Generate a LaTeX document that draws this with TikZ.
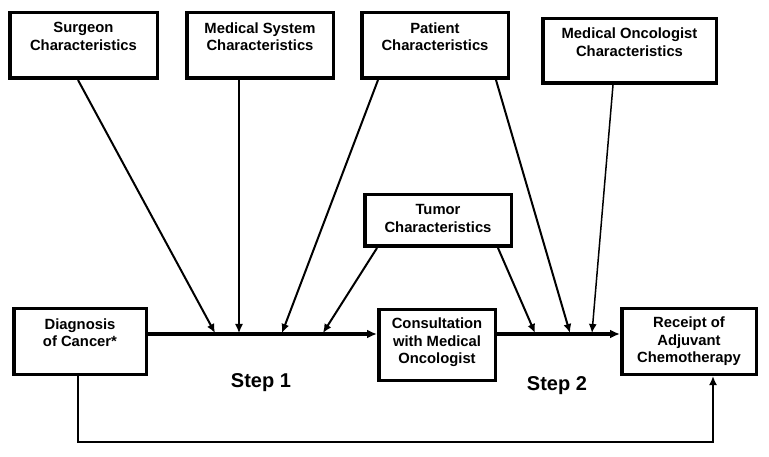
\documentclass[tikz,border=0pt]{standalone}
\usepackage{fontspec}
\setmainfont{Liberation Sans}
\usetikzlibrary{arrows.meta, positioning, calc}

\newcommand{\lowpad}[1]{\rule[-#1]{0pt}{#1}}

\tikzset{
    box/.style={draw, line width=3.5pt, align=center, inner sep=0pt,
        font=\fontsize{14.8pt}{17.5pt}\selectfont\bfseries},
    main/.style={line width=3pt, -{Latex[length=10pt, width=9pt]}},
    infl/.style={line width=2pt, -{Latex[length=9pt, width=8pt]}},
    feed/.style={line width=2pt, -{Latex[length=9pt, width=8pt]}},
    steplabel/.style={font=\fontsize{20pt}{24pt}\selectfont\bfseries},
}

\begin{document}
\begin{tikzpicture}[x=1pt, y=-1pt]
\useasboundingbox (0,0) rectangle (769,457);

\begin{scope}[minimum height=65.5pt]
    \node[box, minimum width=147.5pt] (surg) at (83.5,45.5) {Surgeon\\Characteristics\lowpad{18pt}};
    \node[box, minimum width=146.5pt, right=26pt of surg] (medsys) {Medical System\\Characteristics\lowpad{18pt}};
    \node[box, minimum width=146.5pt, right=25pt of medsys] (pat) {Patient\\Characteristics\lowpad{18pt}};
    \node[box, minimum width=173.5pt, minimum height=64.5pt] (onc) at (629.5,51) {Medical Oncologist\\Characteristics\lowpad{18pt}};

    \node[box, minimum width=146.5pt, minimum height=51.5pt] (tum) at (438,220.5) {Tumor\\Characteristics\lowpad{4pt}};

    \node[box, minimum width=132.5pt] (diag) at (80,341.5) {Diagnosis\\of Cancer*\lowpad{18pt}};
    \node[box, minimum width=116.5pt, minimum height=70.5pt] (cons) at (437,345) {Consultation\\with Medical\\Oncologist\lowpad{8pt}};
    \node[box, minimum width=134.5pt] (rec) at (689,341.5) {Receipt of\\Adjuvant\\Chemotherapy};
\end{scope}

\node[steplabel] (step1) at (261,383) {Step 1};
\node[steplabel] (step2) at (557,386) {Step 2};

\coordinate (lane) at (0,334);
\coordinate (bot) at (0,442);

\coordinate (in1) at (215,333);
\coordinate (in2) at (239,333);
\coordinate (in3) at (282,333);
\coordinate (in4) at (323,333);
\coordinate (in5) at (535,333);
\coordinate (in6) at (570,333);
\coordinate (in7) at (592,333);

\draw[main] (diag.east |- lane) -- (cons.west |- lane);
\draw[main] (cons.east |- lane) -- (rec.west |- lane);

\draw[infl] ([xshift=-5.5pt]surg.south) -- (in1);
\draw[infl, line width=1.3pt] ([xshift=-21pt]medsys.south) -- (in2);
\draw[infl] ([xshift=-57pt]pat.south) -- (in3);
\draw[infl] ([xshift=-61pt]tum.south) -- (in4);
\draw[infl] ([xshift=60pt]tum.south) -- (in5);
\draw[infl] ([xshift=61pt]pat.south) -- (in6);
\draw[infl, line width=1.5pt] ([xshift=-16.5pt]onc.south) -- (in7);

\draw[feed] ([xshift=-2pt]diag.south) -- ([xshift=-2pt]diag.south |- bot) -| ([xshift=24pt]rec.south);

\end{tikzpicture}
\end{document}
